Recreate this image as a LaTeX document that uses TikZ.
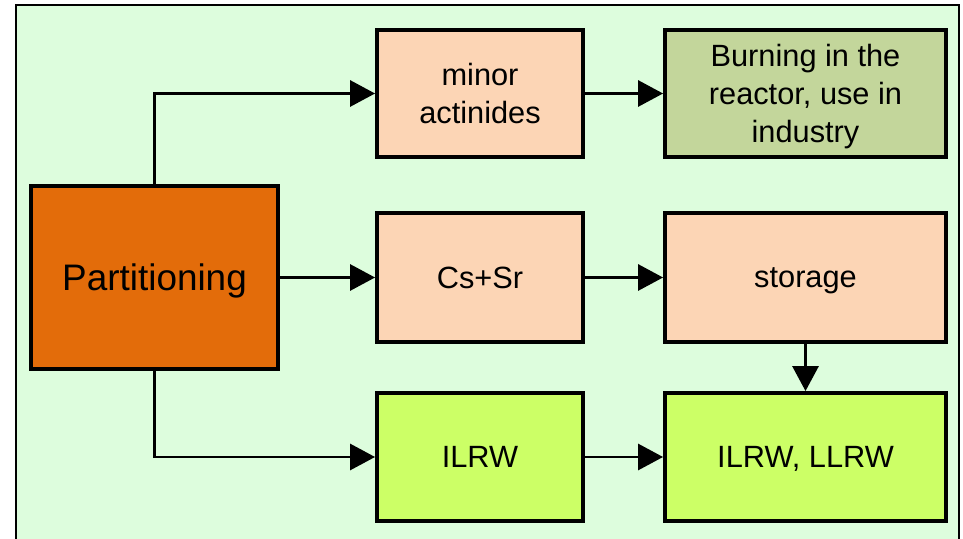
\documentclass[tikz,border=0pt]{standalone}
\usepackage{fontspec}
\setmainfont{Liberation Sans}
\usetikzlibrary{arrows.meta,positioning}

\definecolor{bgGreen}{HTML}{DDFDDD}
\definecolor{partOrange}{HTML}{E36C0A}
\definecolor{peach}{HTML}{FCD5B5}
\definecolor{oliveGreen}{HTML}{C3D69B}
\definecolor{limeGreen}{HTML}{CCFF66}

\tikzset{
  flowbox/.style={draw=black,line width=2.2pt,align=center,inner sep=2pt,text depth=0pt,
    font=\fontsize{17.5pt}{21.5pt}\selectfont},
  flowarrow/.style={line width=1.7pt,-{Triangle[length=0.5cm,width=0.52cm]}}
}

\begin{document}
\begin{tikzpicture}
\useasboundingbox (0,0) rectangle (19.26,-10.78);
\fill[white] (0,0) rectangle (19.26,-10.78);
\draw[fill=bgGreen,line width=1pt] (0.32,-0.1) rectangle (19.18,-11.2);

\node[flowbox,fill=partOrange,minimum width=4.94cm,minimum height=3.66cm,font=\fontsize{21pt}{25pt}\selectfont] (part) at (3.09,-5.55) {Partitioning};
\node[flowbox,fill=peach,minimum width=4.12cm,minimum height=2.54cm] (minor) at (9.6,-1.87) {minor\\actinides};
\node[flowbox,fill=oliveGreen,minimum width=5.62cm,minimum height=2.54cm] (burn) at (16.11,-1.87) {Burning in the\\reactor, use in\\industry};
\node[flowbox,fill=peach,minimum width=4.12cm,minimum height=2.58cm] (cssr) at (9.6,-5.55) {Cs+Sr};
\node[flowbox,fill=peach,minimum width=5.62cm,minimum height=2.58cm] (storage) at (16.11,-5.55) {storage};
\node[flowbox,fill=limeGreen,minimum width=4.12cm,minimum height=2.56cm] (ilrw) at (9.6,-9.14) {ILRW};
\node[flowbox,fill=limeGreen,minimum width=5.62cm,minimum height=2.56cm] (llrw) at (16.11,-9.14) {ILRW, LLRW};

\draw[flowarrow] (part.north) |- (minor.west);
\draw[flowarrow] (part.east) -- (cssr.west);
\draw[flowarrow] (part.south) |- (ilrw.west);
\draw[flowarrow] (minor.east) -- (burn.west);
\draw[flowarrow] (cssr.east) -- (storage.west);
\draw[flowarrow] (ilrw.east) -- (llrw.west);
\draw[flowarrow] (storage.south) -- (llrw.north);
\end{tikzpicture}
\end{document}
